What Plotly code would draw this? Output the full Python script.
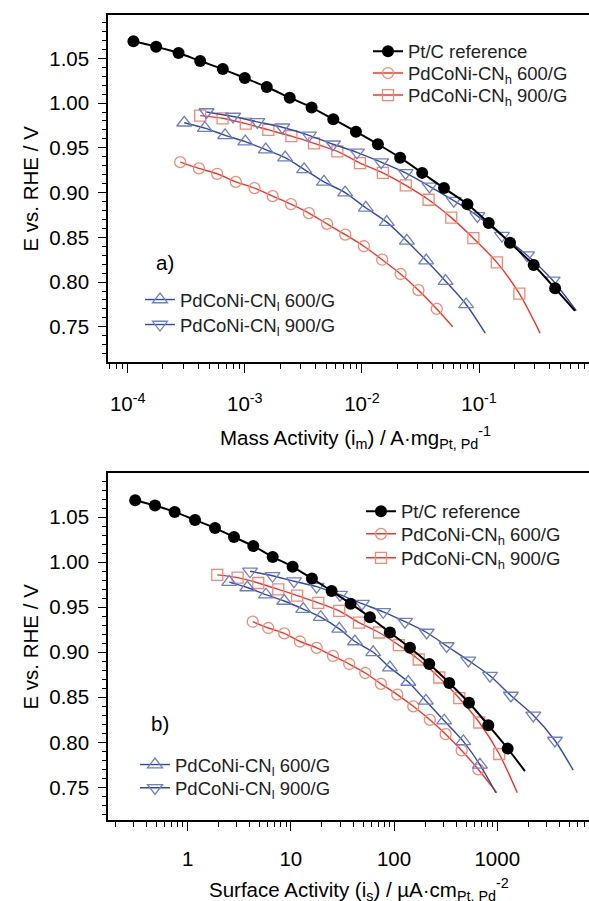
import plotly.graph_objects as go

# ---------------- data ----------------
# Potential E vs RHE (V) at each marker
V_PTC = [1.069, 1.063, 1.056, 1.047, 1.038, 1.028, 1.018, 1.006, 0.995, 0.982,
         0.968, 0.954, 0.939, 0.922, 0.905, 0.887, 0.866, 0.844, 0.819, 0.793]
V_H600 = [0.934, 0.927, 0.921, 0.912, 0.905, 0.896, 0.887, 0.877, 0.865, 0.853,
          0.840, 0.825, 0.809, 0.791, 0.770]
V_H900 = [0.986, 0.983, 0.977, 0.970, 0.963, 0.955, 0.946, 0.933, 0.922, 0.908,
          0.892, 0.872, 0.849, 0.822, 0.787]
V_L600 = [0.978, 0.972, 0.964, 0.957, 0.948, 0.939, 0.926, 0.912, 0.900, 0.883,
          0.867, 0.846, 0.824, 0.801, 0.775]
V_L900 = [0.990, 0.985, 0.979, 0.973, 0.964, 0.954, 0.945, 0.934, 0.922, 0.907,
          0.891, 0.874, 0.852, 0.830, 0.802]

# Mass activity (A / mg Pt,Pd)
IM_PTC = [1.12e-4, 1.75e-4, 2.72e-4, 4.16e-4, 6.49e-4, 1.00e-3, 1.54e-3, 2.42e-3, 3.72e-3, 5.70e-3,
          8.89e-3, 1.37e-2, 2.12e-2, 3.27e-2, 5.02e-2, 7.96e-2, 0.121, 0.184, 0.293, 0.446]
IM_H600 = [2.81e-4, 4.06e-4, 5.81e-4, 8.38e-4, 1.21e-3, 1.73e-3, 2.48e-3, 3.53e-3, 5.04e-3, 7.21e-3,
           1.04e-2, 1.49e-2, 2.14e-2, 3.04e-2, 4.36e-2]
IM_H900 = [4.16e-4, 6.46e-4, 1.02e-3, 1.59e-3, 2.50e-3, 3.90e-3, 6.17e-3, 9.62e-3, 1.51e-2, 2.37e-2,
           3.71e-2, 5.79e-2, 8.95e-2, 0.142, 0.221]
IM_L600 = [3.04e-4, 4.56e-4, 6.79e-4, 1.01e-3, 1.51e-3, 2.21e-3, 3.21e-3, 4.74e-3, 7.19e-3, 1.08e-2,
           1.63e-2, 2.42e-2, 3.54e-2, 5.18e-2, 7.76e-2]
IM_L900 = [4.71e-4, 7.94e-4, 1.28e-3, 2.09e-3, 3.53e-3, 5.66e-3, 9.06e-3, 1.46e-2, 2.36e-2, 3.78e-2,
           6.08e-2, 9.68e-2, 0.157, 0.257, 0.425]
# where each fitted curve ends (x, E)
IM_END = {"ptc": (0.659, 0.768), "h600": (5.97e-2, 0.750), "h900": (0.332, 0.743),
          "l600": (0.113, 0.743), "l900": (0.676, 0.768)}

# Surface activity (uA / cm2 Pt,Pd)
IS_PTC = [0.310, 0.482, 0.748, 1.178, 1.841, 2.812, 4.325, 6.668, 10.40, 16.00,
          24.83, 37.93, 58.34, 91.2, 142.6, 219.3, 342.8, 532.1, 818.5, 1262]
IS_H600 = [4.27, 6.04, 8.63, 12.25, 17.78, 25.59, 36.81, 52.60, 74.6, 107.4,
           153.5, 222.3, 316.2, 451.9, 654.6]
IS_H900 = [1.936, 3.048, 4.831, 7.551, 11.51, 18.45, 29.44, 45.71, 71.45, 111.2,
           173.4, 274.2, 428.5, 669.9, 1045]
IS_L600 = [2.529, 3.784, 5.741, 8.630, 13.18, 19.45, 29.44, 41.78, 62.81, 91.2,
           137.4, 203.7, 306.2, 468.8, 679.2]
IS_L900 = [4.018, 6.637, 10.72, 17.78, 29.92, 48.87, 78.52, 127.6, 207.0, 323.6,
           523.6, 849.2, 1355, 2234, 3622]
IS_END = {"ptc": (1854, 0.768), "h600": (986, 0.744), "h900": (1563, 0.744),
          "l600": (970, 0.744), "l900": (5445, 0.769)}

NAMES = {
    "ptc": "Pt/C reference",
    "h600": "PdCoNi-CN<sub>h</sub> 600/G",
    "h900": "PdCoNi-CN<sub>h</sub> 900/G",
    "l600": "PdCoNi-CN<sub>l</sub> 600/G",
    "l900": "PdCoNi-CN<sub>l</sub> 900/G",
}
X_TOP_TICKS = [1e-4, 1e-3, 1e-2, 1e-1]
X_TOP_TEXT = ["10<sup>-4</sup>", "10<sup>-3</sup>", "10<sup>-2</sup>", "10<sup>-1</sup>"]
X_BOT_TICKS = [1, 10, 100, 1000]
X_BOT_TEXT = ["1", "10", "100", "1000"]
Y_TICKS = [0.75, 0.80, 0.85, 0.90, 0.95, 1.00, 1.05]

# ---------------- style ----------------
W, H = 589, 901
FONT = "Liberation Sans, Arial, sans-serif"
RED_LINE, RED_MK = "#f2362b", "#f48a74"
BLUE_LINE, BLUE_MK = "#3449a6", "#6e7ec9"

STYLE = {
    "ptc": dict(lc="black", mc="black", sym="circle", size=12, lw=2.0),
    "h600": dict(lc=RED_LINE, mc=RED_MK, sym="circle-open", size=11, lw=1.4),
    "h900": dict(lc=RED_LINE, mc=RED_MK, sym="square-open", size=11, lw=1.4),
    "l600": dict(lc=BLUE_LINE, mc=BLUE_MK, sym="triangle-up-open", size=13, lw=1.4),
    "l900": dict(lc=BLUE_LINE, mc=BLUE_MK, sym="triangle-down-open", size=13, lw=1.4),
}

def px2x(p):
    return p / W

def px2y(p):
    return 1 - p / H

fig = go.Figure()

panels = [
    dict(xa="x", ya="y",
         data={"h600": (IM_H600, V_H600), "h900": (IM_H900, V_H900), "l600": (IM_L600, V_L600),
               "l900": (IM_L900, V_L900), "ptc": (IM_PTC, V_PTC)},
         end=IM_END,
         leg={"ptc": (408, 51.7), "h600": (408, 73.5), "h900": (408, 95.5),
              "l600": (180, 300), "l900": (180, 325)}),
    dict(xa="x2", ya="y2",
         data={"h600": (IS_H600, V_H600), "h900": (IS_H900, V_H900), "l600": (IS_L600, V_L600),
               "l900": (IS_L900, V_L900), "ptc": (IS_PTC, V_PTC)},
         end=IS_END,
         leg={"ptc": (401, 511.7), "h600": (401, 534.3), "h900": (401, 558.3),
              "l600": (175, 765), "l900": (175, 788.3)}),
]

legend_layouts = {}
li = 0
for p in panels:
    for key in ["h600", "h900", "l600", "l900", "ptc"]:
        li += 1
        lname = "legend" if li == 1 else f"legend{li}"
        xs, vs = p["data"][key]
        ex, ev = p["end"][key]
        st = STYLE[key]
        n = len(xs)
        mk = dict(symbol=st["sym"], size=st["size"], color=st["mc"])
        if key == "ptc":
            mk["line"] = dict(width=0, color="black")
        else:
            mk["line"] = dict(width=1.3, color=st["mc"])
        fig.add_trace(go.Scatter(
            x=list(xs) + [ex], y=list(vs) + [ev],
            mode="lines+markers", name=NAMES[key],
            line=dict(color=st["lc"], width=st["lw"], shape="spline", smoothing=0.8),
            marker=mk,
            selectedpoints=list(range(n)),
            selected=dict(marker=dict(opacity=1)),
            unselected=dict(marker=dict(opacity=0)),
            xaxis=p["xa"], yaxis=p["ya"], legend=lname, showlegend=True,
        ))
        tx, ty = p["leg"][key]
        legend_layouts[lname] = dict(
            x=px2x(tx - 40), y=px2y(ty), xanchor="left", yanchor="middle",
            bgcolor="rgba(0,0,0,0)", borderwidth=0,
            font=dict(family=FONT, size=18.5, color="#222"),
        )

top_minor = [k * 10.0 ** e for e in range(-5, 0) for k in range(2, 10)]
bot_minor = [k * 10.0 ** e for e in range(-1, 4) for k in range(2, 10)]
top_sub = [k * 10.0 ** e for e in range(-5, 0) for k in (1.2, 1.4, 1.6, 1.8)]
bot_sub = [k * 10.0 ** e for e in range(-1, 4) for k in (1.2, 1.4, 1.6, 1.8)]

XDOM = [108 / W, 1.0]
YDOM_TOP = [1 - 362 / H, 1 - 15 / H]
YDOM_BOT = [1 - 820 / H, 1 - 473 / H]
TOP_XR = [-4.168, -0.061]
BOT_XR = [-0.772, 3.889]

tickfont = dict(family=FONT, size=20.5, color="black")
common_x = dict(type="log", showgrid=False, zeroline=False, showline=True, linecolor="black",
                linewidth=1.5, ticks="outside", ticklen=9, tickwidth=1.3, tickcolor="black",
                tickfont=tickfont, tickmode="array", mirror=True, domain=XDOM)
common_y = dict(showgrid=False, zeroline=False, showline=True, linecolor="black",
                linewidth=1.5, ticks="outside", ticklen=8, tickwidth=1.3, tickcolor="black",
                tickfont=tickfont, tickmode="array", tickvals=Y_TICKS, tickformat=".2f",
                minor=dict(ticks="outside", ticklen=4.5, tickwidth=1.1, tickcolor="black",
                           dtick=0.01, tick0=0.70, showgrid=False),
                ticklabelstandoff=5)

fig.update_layout(
    width=W, height=H, margin=dict(l=0, r=0, t=0, b=0),
    paper_bgcolor="white", plot_bgcolor="white",
    font=dict(family=FONT, color="black"),
    xaxis=dict(common_x, range=TOP_XR, anchor="y", tickvals=X_TOP_TICKS, ticktext=X_TOP_TEXT,
               ticklabelstandoff=14,
               minor=dict(ticks="outside", ticklen=5, tickwidth=1.1, tickcolor="black",
                          tickmode="array", tickvals=top_minor, showgrid=False)),
    yaxis=dict(common_y, range=[0.7107, 1.0984], anchor="x", domain=YDOM_TOP),
    xaxis2=dict(common_x, range=BOT_XR, anchor="y2", tickvals=X_BOT_TICKS, ticktext=X_BOT_TEXT,
                ticklabelstandoff=11,
                minor=dict(ticks="outside", ticklen=5, tickwidth=1.1, tickcolor="black",
                           tickmode="array", tickvals=bot_minor, showgrid=False)),
    yaxis2=dict(common_y, range=[0.7137, 1.0992], anchor="x2", domain=YDOM_BOT),
    xaxis3=dict(type="log", overlaying="x", anchor="y", range=TOP_XR, showgrid=False,
                zeroline=False, showline=False, ticks="outside", ticklen=2.5, tickwidth=1,
                tickcolor="black", tickmode="array", tickvals=top_sub, showticklabels=False,
                side="bottom"),
    xaxis4=dict(type="log", overlaying="x2", anchor="y2", range=BOT_XR, showgrid=False,
                zeroline=False, showline=False, ticks="outside", ticklen=2.5, tickwidth=1,
                tickcolor="black", tickmode="array", tickvals=bot_sub, showticklabels=False,
                side="bottom"),
    showlegend=True,
    **legend_layouts,
)

ann_font = dict(family=FONT, size=20.5, color="black")
annotations = [
    dict(text="E vs. RHE / V", x=px2x(30), y=px2y(188.5), textangle=-90),
    dict(text="E vs. RHE / V", x=px2x(30), y=px2y(646.5), textangle=-90),
    dict(text="Mass Activity (i<sub>m</sub>) / A·mg<sub>Pt, Pd</sub><sup>-1</sup>",
         x=px2x(355), y=px2y(437)),
    dict(text="Surface Activity (i<sub>s</sub>) / µA·cm<sub>Pt, Pd</sub><sup>-2</sup>",
         x=px2x(359), y=px2y(889)),
    dict(text="a)", x=px2x(165), y=px2y(262)),
    dict(text="b)", x=px2x(160), y=px2y(723)),
]
for a in annotations:
    a.update(xref="paper", yref="paper", showarrow=False, font=ann_font,
             xanchor="center", yanchor="middle")
fig.update_layout(annotations=annotations)

fig.write_html("out.html")
